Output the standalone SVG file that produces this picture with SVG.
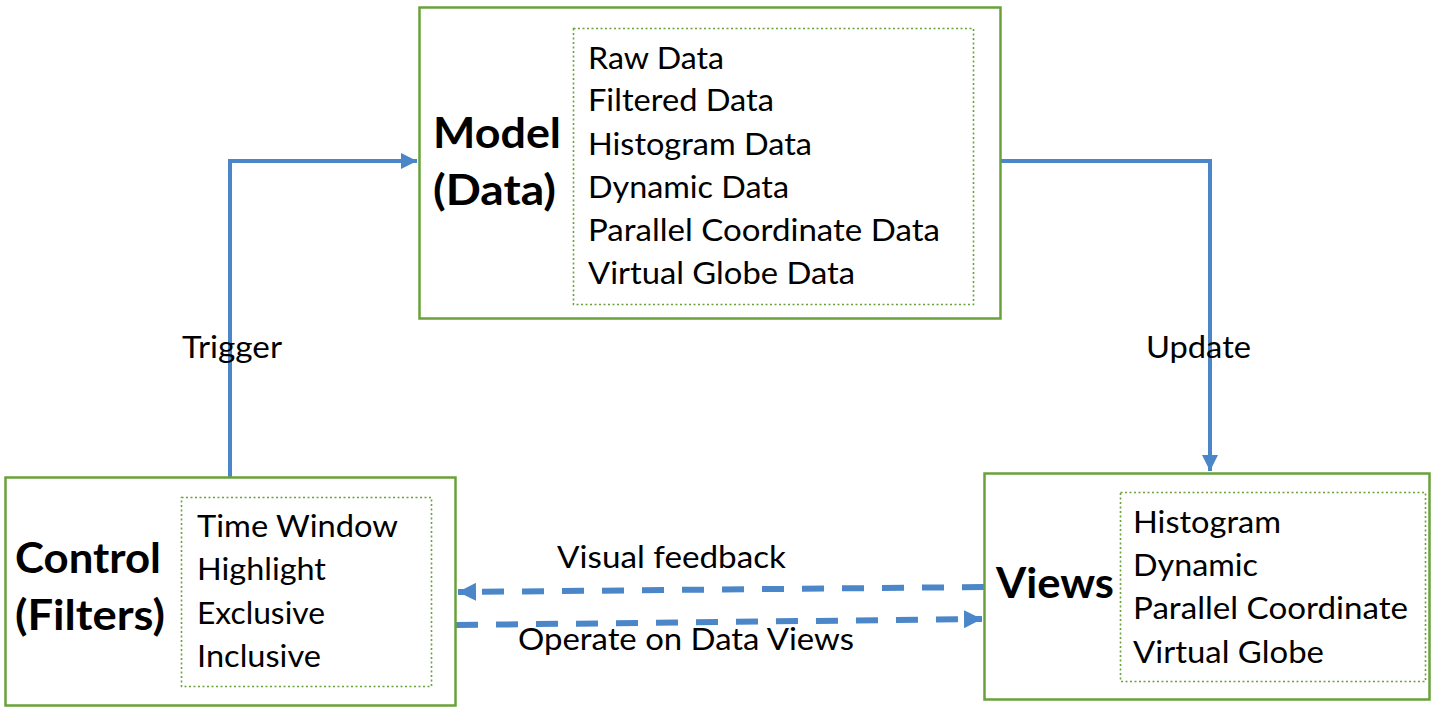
<svg xmlns="http://www.w3.org/2000/svg" width="1444" height="712" viewBox="0 0 1444 712">
<style>
.box{fill:#fff;stroke:#6aa13a;stroke-width:2.5}
.inner{fill:none;stroke:#6aa13a;stroke-width:1.6;stroke-dasharray:2 2.5}
.t{font-family:Lato,"Open Sans",sans-serif;font-size:31px;fill:#000}
.b{font-family:Lato,"Open Sans",sans-serif;font-size:42px;font-weight:bold;fill:#000}
.ln{fill:none;stroke:#4a86c8;stroke-width:4}
.dl{fill:none;stroke:#4a86c8;stroke-width:6;stroke-dasharray:22 18}
</style>
<defs>
<marker id="ah" viewBox="0 0 10 10" refX="10" refY="5" markerWidth="4" markerHeight="4" orient="auto" markerUnits="strokeWidth">
<path d="M0,0 L10,5 L0,10 z" fill="#4a86c8"/>
</marker>
<marker id="ah2" viewBox="0 0 10 10" refX="10" refY="5" markerWidth="3" markerHeight="3" orient="auto" markerUnits="strokeWidth">
<path d="M0,0 L10,5 L0,10 z" fill="#4a86c8"/>
</marker>
</defs>
<rect width="1444" height="712" fill="#fff"/>
<g id="connectors">
<polyline class="ln" points="230,477 230,161 417,161" marker-end="url(#ah)"/>
<polyline class="ln" points="1001,161 1210,161 1210,471" marker-end="url(#ah)"/>
<line class="dl" x1="984" y1="587" x2="458" y2="592" marker-end="url(#ah2)"/>
<line class="dl" x1="456" y1="625" x2="982" y2="619" marker-end="url(#ah2)"/>
<text class="t" x="182" y="358" textLength="100" lengthAdjust="spacingAndGlyphs">Trigger</text>
<text class="t" x="1146" y="358" textLength="105" lengthAdjust="spacingAndGlyphs">Update</text>
<text class="t" x="557" y="568" textLength="229" lengthAdjust="spacingAndGlyphs">Visual feedback</text>
<text class="t" x="518" y="650" textLength="336" lengthAdjust="spacingAndGlyphs">Operate on Data Views</text>
</g>
<g id="model">
<rect class="box" x="419.5" y="7.5" width="581" height="311"/>
<rect class="inner" x="573.5" y="28.5" width="400" height="276"/>
<text class="b" x="433" y="148" textLength="128" lengthAdjust="spacingAndGlyphs">Model</text>
<text class="b" x="433" y="205" textLength="123" lengthAdjust="spacingAndGlyphs">(Data)</text>
<text class="t" x="588" y="69" textLength="136" lengthAdjust="spacingAndGlyphs">Raw Data</text>
<text class="t" x="588" y="111" textLength="186" lengthAdjust="spacingAndGlyphs">Filtered Data</text>
<text class="t" x="588" y="155" textLength="224" lengthAdjust="spacingAndGlyphs">Histogram Data</text>
<text class="t" x="588" y="198" textLength="201" lengthAdjust="spacingAndGlyphs">Dynamic Data</text>
<text class="t" x="588" y="241" textLength="352" lengthAdjust="spacingAndGlyphs">Parallel Coordinate Data</text>
<text class="t" x="588" y="284" textLength="267" lengthAdjust="spacingAndGlyphs">Virtual Globe Data</text>
</g>
<g id="control">
<rect class="box" x="5.5" y="477.5" width="450" height="228"/>
<rect class="inner" x="181.5" y="497.5" width="250" height="189"/>
<text class="b" x="15" y="573" textLength="146" lengthAdjust="spacingAndGlyphs">Control</text>
<text class="b" x="15" y="630" textLength="150" lengthAdjust="spacingAndGlyphs">(Filters)</text>
<text class="t" x="197" y="537" textLength="201" lengthAdjust="spacingAndGlyphs">Time Window</text>
<text class="t" x="197" y="580" textLength="129" lengthAdjust="spacingAndGlyphs">Highlight</text>
<text class="t" x="197" y="624" textLength="128" lengthAdjust="spacingAndGlyphs">Exclusive</text>
<text class="t" x="197" y="667" textLength="124" lengthAdjust="spacingAndGlyphs">Inclusive</text>
</g>
<g id="views">
<rect class="box" x="984.5" y="473.5" width="445" height="226"/>
<rect class="inner" x="1120.5" y="492.5" width="305" height="189"/>
<text class="b" x="996" y="598" textLength="118" lengthAdjust="spacingAndGlyphs">Views</text>
<text class="t" x="1133" y="533" textLength="148" lengthAdjust="spacingAndGlyphs">Histogram</text>
<text class="t" x="1133" y="576" textLength="125" lengthAdjust="spacingAndGlyphs">Dynamic</text>
<text class="t" x="1133" y="619" textLength="275" lengthAdjust="spacingAndGlyphs">Parallel Coordinate</text>
<text class="t" x="1133" y="663" textLength="191" lengthAdjust="spacingAndGlyphs">Virtual Globe</text>
</g>
</svg>
